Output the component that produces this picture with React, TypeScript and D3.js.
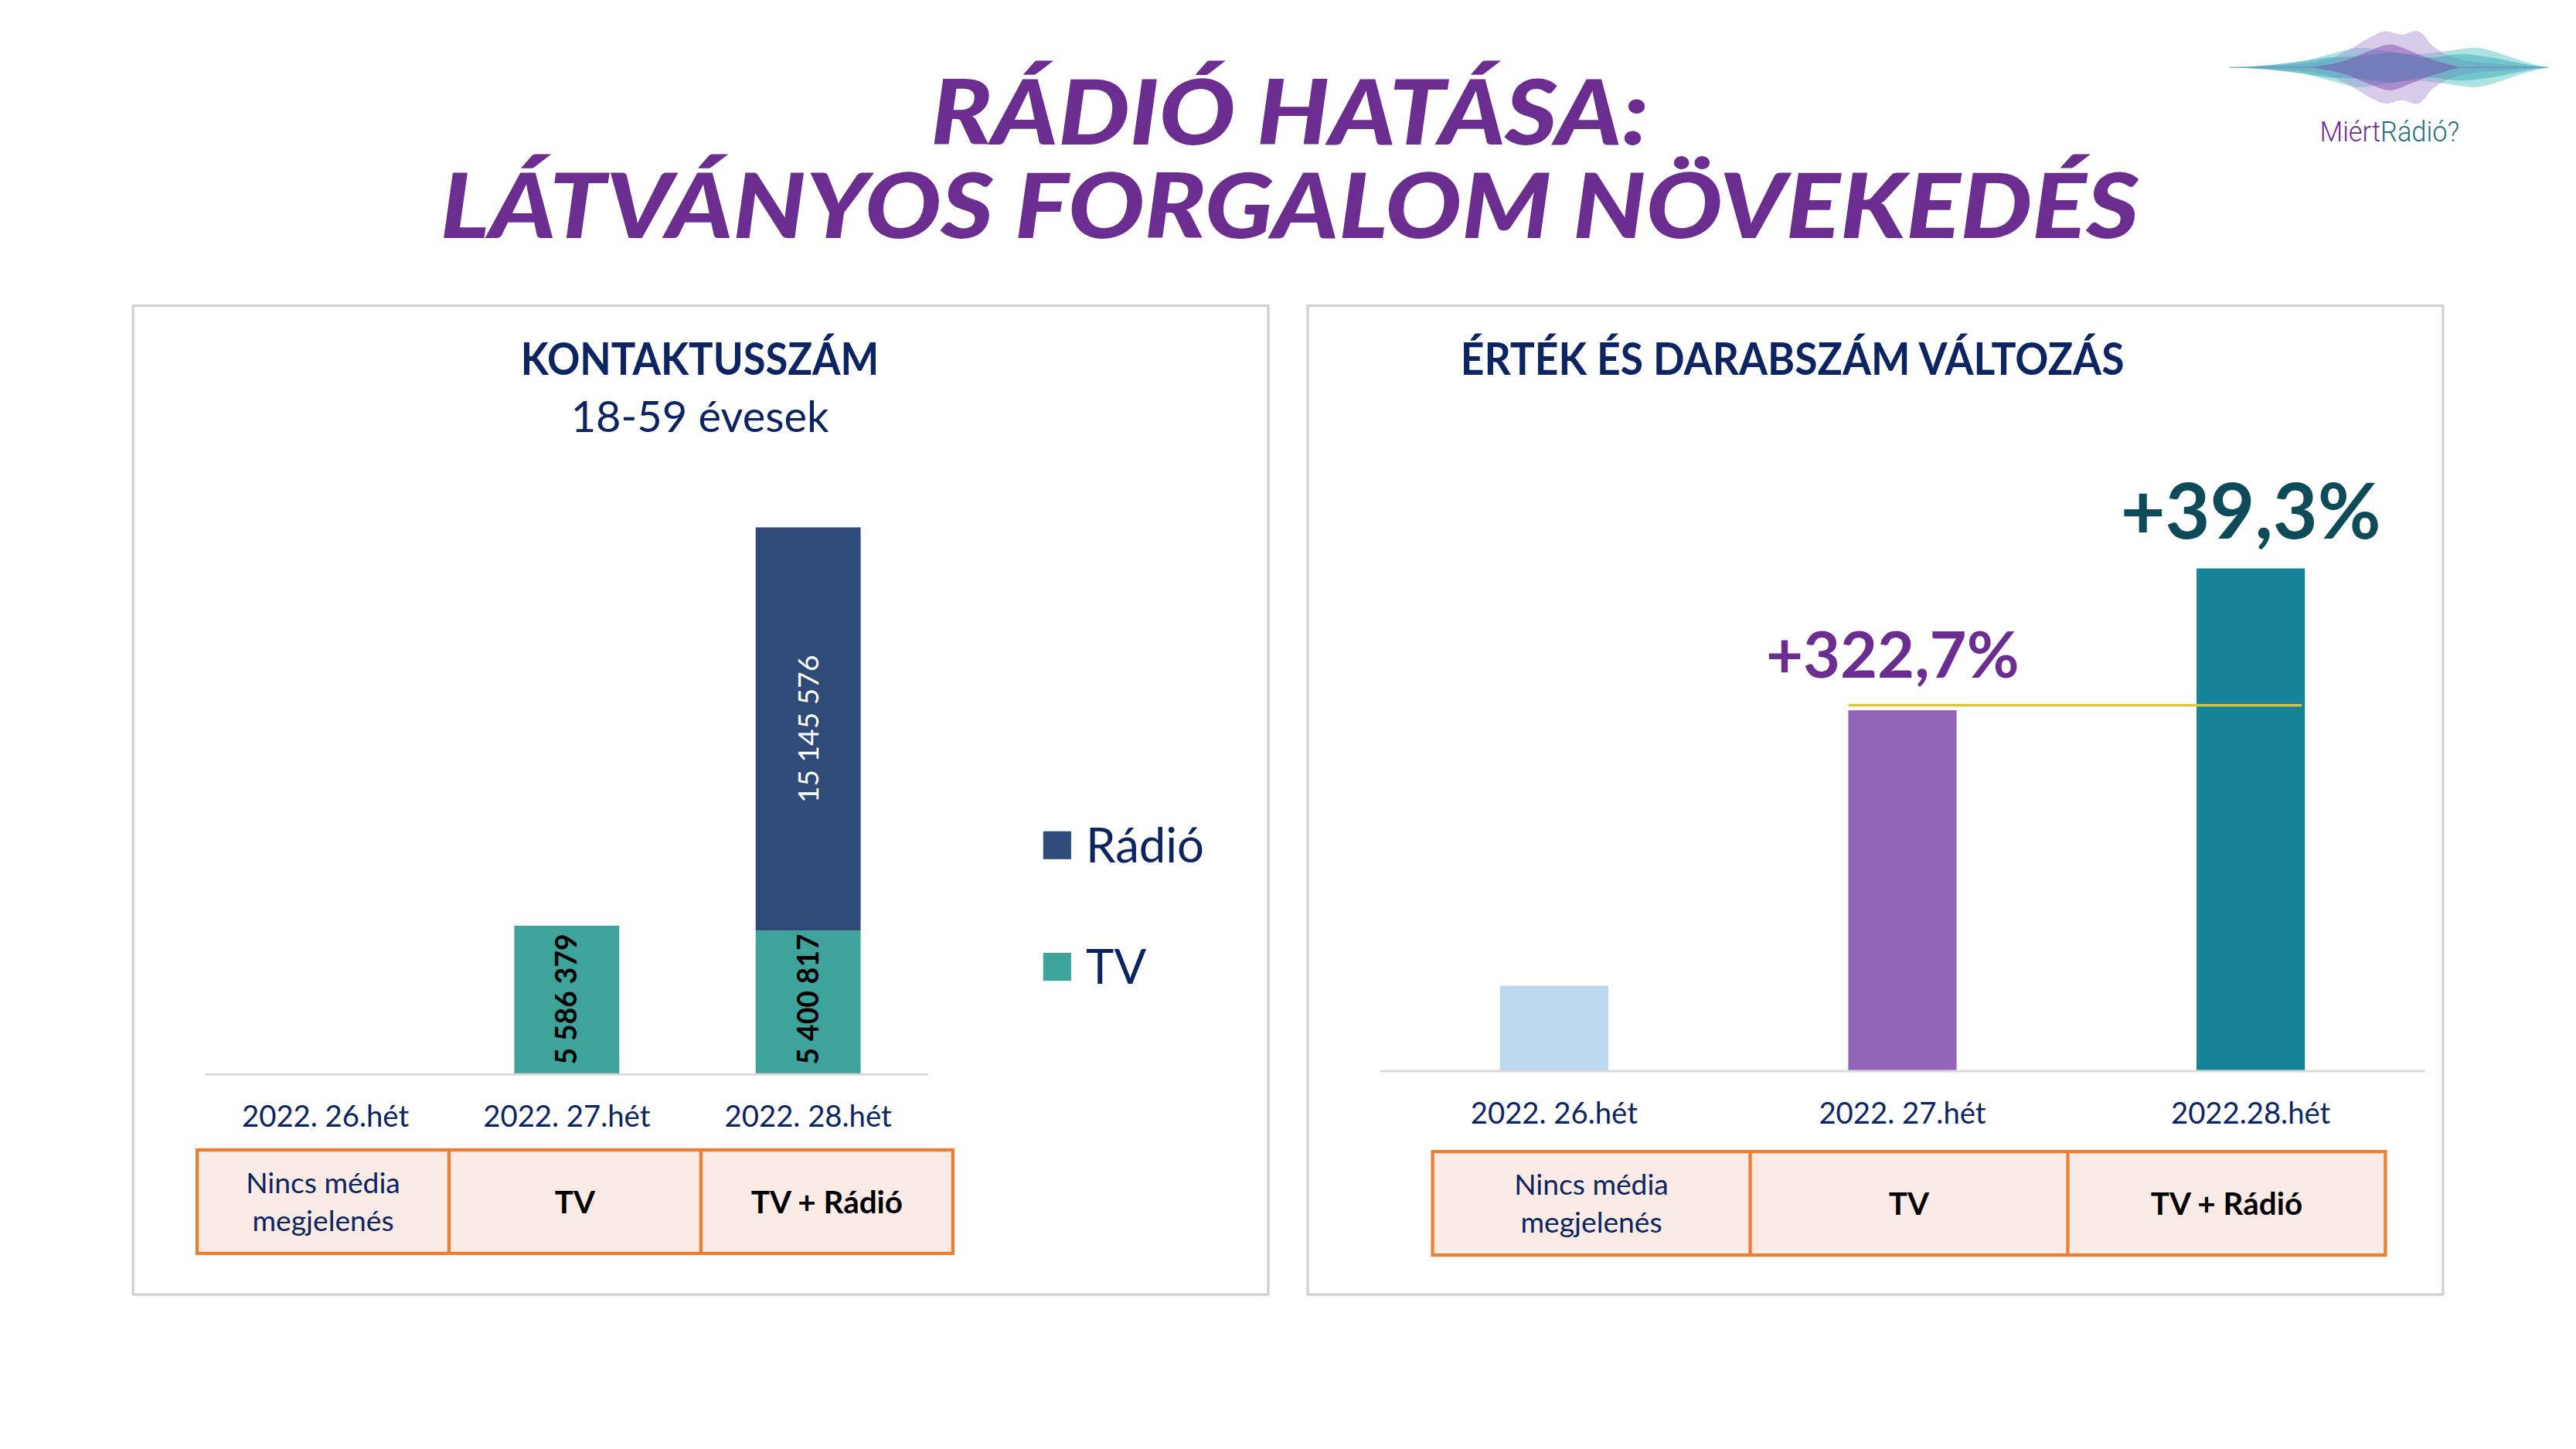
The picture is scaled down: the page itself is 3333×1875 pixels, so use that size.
import React from "react";
import * as d3 from "d3";

// left chart: contact numbers, 18-59
const weeksLeft = ["2022. 26.hét", "2022. 27.hét", "2022. 28.hét"];
const tvContacts = [0, 5586379, 5400817];
const radioContacts = [0, 0, 15145576];
const seriesNames = ["TV", "Rádió"];

// right chart: value & quantity change (index, week 26 = 100)
const weeksRight = ["2022. 26.hét", "2022. 27.hét", "2022.28.hét"];
const salesIndex = [100, 422.7, 588.8];
const changeLabels = ["", "+322,7%", "+39,3%"];

const mediaRows = [["Nincs média", "megjelenés"], ["TV"], ["TV + Rádió"]];

const NAVY = "#0C2461";
const FONT = "Lato, 'Open Sans', sans-serif";

// logo wave layers: [x offset, half height]
const logoLayers = [
  { color: "#45C3C2", pts: [[0, 0], [30, 2], [50, 5], [65, 9], [80, 12], [95, 10], [110, 8], [125, 9], [140, 11], [150, 12], [160, 10], [175, 5], [185, 2], [194, 0]] },
  { color: "#A98BD0", pts: [[0, 0], [40, 2], [60, 5], [75, 12], [85, 18], [95, 22], [105, 20], [115, 22], [125, 12], [140, 5], [165, 2], [194, 0]] },
  { color: "#2AA5B0", pts: [[10, 0], [40, 3], [60, 6], [80, 7], [100, 9], [120, 6], [140, 8], [160, 6], [180, 2], [194, 0]] },
  { color: "#7A3FA8", pts: [[50, 0], [70, 4], [85, 10], [98, 14], [110, 10], [120, 6], [140, 0]] },
];

function Table({ x0, x1, y0, y1 }) {
  const xs = d3.scaleBand().domain(mediaRows.map((_, i) => String(i))).range([x0, x1]);
  return (
    <g>
      <rect x={x0} y={y0} width={x1 - x0} height={y1 - y0} fill="#FBEBE6" stroke="#ED7D31" strokeWidth={2} />
      {mediaRows.slice(1).map((_, i) => (
        <line key={i} x1={xs(String(i + 1))} x2={xs(String(i + 1))} y1={y0} y2={y1} stroke="#ED7D31" strokeWidth={2} />
      ))}
      {mediaRows.map((r, i) => {
        const cx = xs(String(i)) + xs.bandwidth() / 2;
        const cy = (y0 + y1) / 2;
        if (r.length > 1)
          return (
            <text key={i} x={cx} textAnchor="middle" fontFamily={FONT} fontSize={17.5} fill={NAVY}>
              <tspan x={cx} y={cy - 5}>{r[0]}</tspan>
              <tspan x={cx} y={cy + 18}>{r[1]}</tspan>
            </text>
          );
        return (
          <text key={i} x={cx} y={cy + 7} textAnchor="middle" fontFamily={FONT} fontWeight={700} fontSize={19} fill="#000">
            {r[0]}
          </text>
        );
      })}
    </g>
  );
}

function LeftChart() {
  const x = d3.scaleBand().domain(weeksLeft).range([125, 565]).paddingInner(0.565).paddingOuter(0.28);
  const rows = weeksLeft.map((w, i) => ({ week: w, TV: tvContacts[i], "Rádió": radioContacts[i] }));
  const stack = d3.stack().keys(seriesNames)(rows);
  const total = d3.max(rows, (d) => d.TV + d["Rádió"]);
  const y = d3.scaleLinear().domain([0, total]).range([654, 321]);
  const color = d3.scaleOrdinal().domain(seriesNames).range(["#3EA39A", "#2F4B77"]);
  const fmt = (v) => d3.format(",")(v).replace(/,/g, " ");

  return (
    <g>
      <rect x={81} y={186} width={691} height={602} fill="#fff" stroke="#D0D0D0" strokeWidth={1.5} />
      <text x={426} y={228} textAnchor="middle" fontFamily={FONT} fontWeight={700} fontSize={27} fill={NAVY} textLength={218} lengthAdjust="spacingAndGlyphs">KONTAKTUSSZÁM</text>
      <text x={426} y={263} textAnchor="middle" fontFamily={FONT} fontSize={26} fill={NAVY} textLength={157} lengthAdjust="spacingAndGlyphs">18-59 évesek</text>

      {stack.map((s) => (
        <g key={s.key} fill={color(s.key)}>
          {s.map((d, i) =>
            d[1] - d[0] > 0 ? (
              <rect key={i} x={x(d.data.week)} y={y(d[1])} width={x.bandwidth()} height={y(d[0]) - y(d[1])} />
            ) : null
          )}
        </g>
      ))}
      {stack.map((s) =>
        s.map((d, i) => {
          const v = d[1] - d[0];
          if (v <= 0) return null;
          const cx = x(d.data.week) + x.bandwidth() / 2;
          if (s.key === "TV") {
            const yy = y(d[0]) - 6;
            return (
              <text key={s.key + i} transform={`translate(${cx},${yy}) rotate(-90)`} dy="0.35em" fontFamily={FONT} fontWeight={700} fontSize={17.5} fill="#000">
                {fmt(v)}
              </text>
            );
          }
          const yy = (y(d[0]) + y(d[1])) / 2;
          return (
            <text key={s.key + i} transform={`translate(${cx},${yy}) rotate(-90)`} dy="0.35em" textAnchor="middle" fontFamily={FONT} fontSize={17.5} fill="#fff">
              {fmt(v)}
            </text>
          );
        })
      )}
      <line x1={125} x2={565} y1={y(0)} y2={y(0)} stroke="#D9D9D9" strokeWidth={1.5} />
      {weeksLeft.map((w) => (
        <text key={w} x={x(w) + x.bandwidth() / 2} y={686} textAnchor="middle" fontFamily={FONT} fontSize={18} fill={NAVY}>{w}</text>
      ))}

      {["Rádió", "TV"].map((k, i) => (
        <g key={k} transform={`translate(635,${506 + i * 74})`}>
          <rect width={17} height={17} fill={color(k)} />
          <text x={26} y={19} fontFamily={FONT} fontSize={29} fill={NAVY}>{k}</text>
        </g>
      ))}

      <Table x0={120} x1={580} y0={700} y1={763} />
    </g>
  );
}

function RightChart() {
  const x = d3.scaleBand().domain(weeksRight).range([840, 1476]).paddingInner(0.689).paddingOuter(0.3445);
  const y = d3.scaleLinear().domain([0, d3.max(salesIndex)]).range([652, 346]);
  const colors = ["#BDD7EE", "#9264B7", "#168399"];
  const labelColors = ["#000", "#6B2D90", "#0E4B59"];
  const labelSizes = [0, 39, 47];
  const labelGap = [0, 20, 18];

  return (
    <g>
      <rect x={796} y={186} width={691} height={602} fill="#fff" stroke="#D0D0D0" strokeWidth={1.5} />
      <text x={889} y={228} fontFamily={FONT} fontWeight={700} fontSize={27} fill={NAVY} textLength={404} lengthAdjust="spacingAndGlyphs">ÉRTÉK ÉS DARABSZÁM VÁLTOZÁS</text>

      {weeksRight.map((w, i) => (
        <rect key={w} x={x(w)} y={y(salesIndex[i])} width={x.bandwidth()} height={y(0) - y(salesIndex[i])} fill={colors[i]} />
      ))}
      <line x1={x(weeksRight[1])} x2={x(weeksRight[2]) + x.bandwidth() - 2} y1={y(salesIndex[1]) - 3} y2={y(salesIndex[1]) - 3} stroke="#E2C72A" strokeWidth={1.5} />
      {weeksRight.map((w, i) =>
        changeLabels[i] ? (
          <text key={w} x={x(w) + x.bandwidth() / 2 - (i === 1 ? 6 : 0)} y={y(salesIndex[i]) - labelGap[i]} textAnchor="middle" fontFamily={FONT} fontWeight={700} fontSize={labelSizes[i]} fill={labelColors[i]}>
            {changeLabels[i]}
          </text>
        ) : null
      )}
      <line x1={840} x2={1476} y1={y(0)} y2={y(0)} stroke="#D9D9D9" strokeWidth={1.5} />
      {weeksRight.map((w) => (
        <text key={w} x={x(w) + x.bandwidth() / 2} y={684} textAnchor="middle" fontFamily={FONT} fontSize={18} fill={NAVY}>{w}</text>
      ))}

      <Table x0={872} x1={1452} y0={701} y1={764} />
    </g>
  );
}

function Logo() {
  const cy = 41;
  const area = d3
    .area()
    .x((d) => 1357 + d[0])
    .y0((d) => cy - d[1])
    .y1((d) => cy + d[1])
    .curve(d3.curveCatmullRom);
  return (
    <g>
      {logoLayers.map((l, i) => (
        <path key={i} d={area(l.pts)} fill={l.color} opacity={0.45} />
      ))}
      <line x1={1357} x2={1551} y1={cy} y2={cy} stroke="#5B8FB0" strokeWidth={0.8} opacity={0.6} />
      <text x={1412} y={86} fontFamily="Roboto, sans-serif" fontWeight={300} fontSize={17} textLength={85} lengthAdjust="spacingAndGlyphs">
        <tspan fill="#6B2D90">Miért</tspan>
        <tspan fill="#1F6F80">Rádió?</tspan>
      </text>
    </g>
  );
}

export default function App() {
  return (
    <svg
      width={3333}
      height={1875}
      viewBox="0 0 1568 882"
      style={{ position: "absolute", left: 0, top: 0, background: "#fff" }}
    >
      <rect width={1568} height={882} fill="#fff" />
      <g fontFamily={FONT} fontWeight={900} fontStyle="italic" fill="#6B2D90" textAnchor="middle">
        <text x={785} y={88} fontSize={55} textLength={437} lengthAdjust="spacingAndGlyphs">RÁDIÓ HATÁSA:</text>
        <text x={785} y={145} fontSize={55} textLength={1034} lengthAdjust="spacingAndGlyphs">LÁTVÁNYOS FORGALOM NÖVEKEDÉS</text>
      </g>
      <Logo />
      <LeftChart />
      <RightChart />
    </svg>
  );
}
